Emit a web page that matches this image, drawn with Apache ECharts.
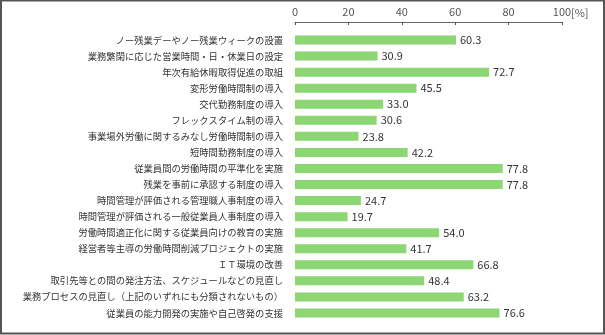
<!DOCTYPE html>
<html>
<head>
<meta charset="utf-8">
<script src="https://cdn.jsdelivr.net/npm/echarts@6/dist/echarts.min.js"></script>
<style>
html,body{margin:0;padding:0;background:#fff;}
#chart{width:605px;height:335px;}
</style>
</head>
<body>
<div id="chart"></div>
<script>
const categories = [
  'ノー残業デーやノー残業ウィークの設置',
  '業務繁閑に応じた営業時間・日・休業日の設定',
  '年次有給休暇取得促進の取組',
  '変形労働時間制の導入',
  '交代勤務制度の導入',
  'フレックスタイム制の導入',
  '事業場外労働に関するみなし労働時間制の導入',
  '短時間勤務制度の導入',
  '従業員間の労働時間の平準化を実施',
  '残業を事前に承認する制度の導入',
  '時間管理が評価される管理職人事制度の導入',
  '時間管理が評価される一般従業員人事制度の導入',
  '労働時間適正化に関する従業員向けの教育の実施',
  '経営者等主導の労働時間削減プロジェクトの実施',
  'ＩＴ環境の改善',
  '取引先等との間の発注方法、スケジュールなどの見直し',
  '業務プロセスの見直し（上記のいずれにも分類されないもの）',
  '従業員の能力開発の実施や自己啓発の支援'
];
const values = [60.3, 30.9, 72.7, 45.5, 33.0, 30.6, 23.8, 42.2, 77.8, 77.8, 24.7, 19.7, 54.0, 41.7, 66.8, 48.4, 63.2, 76.6];
const tickValues = [0, 20, 40, 60, 80, 100];
const unitLabel = '[%]';

const chart = echarts.init(document.getElementById('chart'), null, {renderer: 'canvas'});
const jp = '"Noto Sans CJK JP", "Noto Sans", sans-serif';
chart.setOption({
  animation: false,
  backgroundColor: '#ffffff',
  grid: {left: 295, right: 43, top: 32, bottom: 14, containLabel: false},
  xAxis: {
    type: 'value', position: 'top', offset: 10,
    min: tickValues[0], max: tickValues[tickValues.length - 1], interval: 20,
    axisLine: {show: true, lineStyle: {color: '#666', width: 1}},
    axisTick: {show: true, inside: true, length: 3, lineStyle: {color: '#555'}},
    splitLine: {show: false},
    axisLabel: {color: '#555', fontSize: 11, fontFamily: jp, margin: 5,
      formatter: v => tickValues.includes(v) ? String(v) : ''}
  },
  yAxis: {
    type: 'category', data: categories, inverse: true,
    axisLine: {show: false}, axisTick: {show: false},
    axisLabel: {color: '#333', fontSize: 9.3, fontFamily: jp, margin: 12}
  },
  series: [{
    type: 'bar', data: values, barWidth: 9,
    itemStyle: {color: '#8cd674'},
    label: {show: true, position: 'right', distance: 4, color: '#333', fontSize: 11,
      fontFamily: jp, formatter: p => p.value.toFixed(1)}
  }],
  graphic: [
    {type: 'rect', shape: {x: 1, y: 0.5, width: 603, height: 333}, style: {fill: 'none', stroke: '#555', lineWidth: 2}, silent: true},
    {type: 'text', left: 571, top: 7, style: {text: unitLabel, fill: '#555', fontSize: 11, fontFamily: jp}}
  ]
});
</script>
</body>
</html>
